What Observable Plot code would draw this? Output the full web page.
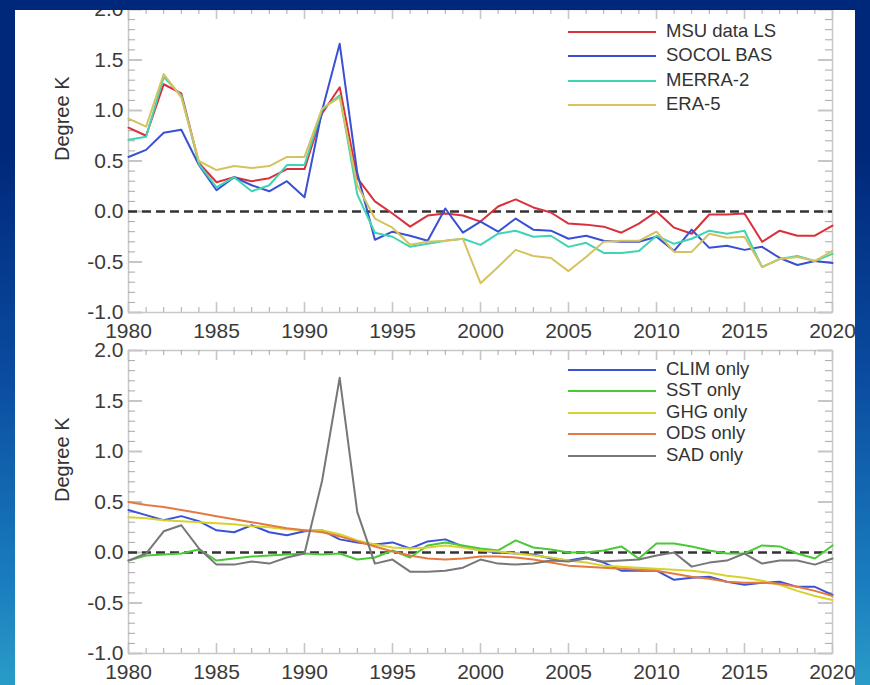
<!DOCTYPE html>
<html>
<head>
<meta charset="utf-8">
<script src="https://cdn.jsdelivr.net/npm/d3@7"></script>
<script src="https://cdn.jsdelivr.net/npm/@observablehq/plot@0.6"></script>
<style>
  html, body { margin: 0; padding: 0; }
  body {
    width: 870px; height: 685px; overflow: hidden; position: relative;
    background: linear-gradient(to bottom, #00287a 0%, #00287a 22%, #0a4ca0 55%, #1a7dbe 85%, #2a9cc8 100%);
    font-family: "Liberation Sans", Arial, Helvetica, sans-serif;
  }
  #panel {
    position: absolute; left: 15px; top: 10px; width: 840px; height: 675px;
    background: #fff; overflow: hidden;
  }
  .chart { position: absolute; left: 0; }
  .chart svg { overflow: visible; }
  .key-line { position: absolute; height: 2px; width: 88px; }
  .key-text { position: absolute; font-size: 18.5px; color: #333; line-height: 20px; white-space: nowrap; }
</style>
</head>
<body>
<div id="panel"></div>
<script>
// Lower-stratosphere temperature anomalies, 1980–2020
const years = d3.range(1980, 2021);

// Upper panel: observations, reanalyses and the SOCOL baseline run
const msuLS = [0.83, 0.75, 1.26, 1.17, 0.48, 0.29, 0.34, 0.30, 0.33, 0.42,
  0.42, 0.97, 1.23, 0.33, 0.10, -0.02, -0.15, -0.04, -0.02, -0.04,
  -0.10, 0.05, 0.12, 0.04, -0.01, -0.12, -0.13, -0.15, -0.21, -0.12,
  0.00, -0.16, -0.22, -0.03, -0.03, -0.02, -0.30, -0.19, -0.24, -0.24, -0.14];
const socolBAS = [0.54, 0.61, 0.78, 0.81, 0.46, 0.21, 0.34, 0.26, 0.20, 0.30,
  0.14, 1.00, 1.66, 0.38, -0.28, -0.20, -0.24, -0.29, 0.03, -0.21,
  -0.10, -0.20, -0.07, -0.18, -0.19, -0.27, -0.24, -0.29, -0.30, -0.30,
  -0.25, -0.39, -0.18, -0.36, -0.34, -0.38, -0.35, -0.46, -0.53, -0.49, -0.51];
const merra2 = [0.71, 0.74, 1.33, 1.15, 0.47, 0.24, 0.34, 0.20, 0.26, 0.46,
  0.46, 1.01, 1.15, 0.17, -0.21, -0.25, -0.35, -0.32, -0.29, -0.27,
  -0.33, -0.22, -0.19, -0.25, -0.24, -0.35, -0.31, -0.41, -0.41, -0.39,
  -0.24, -0.32, -0.27, -0.19, -0.22, -0.19, -0.55, -0.47, -0.44, -0.49, -0.42];
const era5 = [0.92, 0.84, 1.36, 1.13, 0.50, 0.41, 0.45, 0.43, 0.45, 0.54,
  0.54, 1.02, 1.13, 0.26, -0.07, -0.16, -0.33, -0.30, -0.29, -0.27,
  -0.71, -0.55, -0.38, -0.44, -0.46, -0.59, -0.45, -0.30, -0.29, -0.29,
  -0.20, -0.40, -0.40, -0.22, -0.26, -0.25, -0.55, -0.47, -0.45, -0.49, -0.39];

// Lower panel: single-forcing experiments
const climOnly = [0.42, 0.37, 0.32, 0.36, 0.31, 0.22, 0.20, 0.27, 0.20, 0.17,
  0.21, 0.22, 0.13, 0.10, 0.08, 0.10, 0.04, 0.11, 0.13, 0.06,
  0.02, 0.00, -0.01, -0.02, -0.06, -0.08, -0.05, -0.10, -0.18, -0.18,
  -0.18, -0.27, -0.25, -0.24, -0.29, -0.32, -0.30, -0.29, -0.34, -0.34, -0.42];
const sstOnly = [-0.08, -0.03, -0.02, -0.01, 0.03, -0.08, -0.06, -0.04, -0.03, -0.02,
  -0.01, -0.02, -0.01, -0.07, -0.05, 0.02, -0.05, 0.07, 0.10, 0.07,
  0.04, 0.02, 0.12, 0.05, 0.03, 0.00, 0.00, 0.02, 0.06, -0.06,
  0.09, 0.09, 0.06, 0.02, -0.01, -0.01, 0.07, 0.06, -0.01, -0.06, 0.07];
const ghgOnly = [0.35, 0.34, 0.32, 0.31, 0.30, 0.29, 0.28, 0.26, 0.25, 0.23,
  0.22, 0.22, 0.18, 0.12, 0.08, 0.05, 0.04, 0.05, 0.07, 0.05,
  0.02, 0.01, -0.01, -0.03, -0.05, -0.08, -0.10, -0.13, -0.14, -0.15,
  -0.16, -0.17, -0.18, -0.20, -0.23, -0.25, -0.28, -0.32, -0.38, -0.43, -0.47];
const odsOnly = [0.50, 0.47, 0.45, 0.42, 0.39, 0.36, 0.33, 0.30, 0.27, 0.24,
  0.22, 0.20, 0.16, 0.11, 0.06, 0.01, -0.03, -0.06, -0.07, -0.06,
  -0.04, -0.04, -0.05, -0.07, -0.10, -0.13, -0.14, -0.15, -0.16, -0.17,
  -0.18, -0.21, -0.24, -0.26, -0.29, -0.30, -0.30, -0.31, -0.34, -0.38, -0.43];
const sadOnly = [-0.08, -0.01, 0.21, 0.27, 0.04, -0.12, -0.12, -0.09, -0.11, -0.05,
  -0.01, 0.71, 1.73, 0.40, -0.11, -0.07, -0.19, -0.19, -0.18, -0.15,
  -0.07, -0.11, -0.12, -0.11, -0.08, -0.09, -0.06, -0.09, -0.08, -0.07,
  -0.03, 0.00, -0.14, -0.10, -0.08, -0.01, -0.11, -0.08, -0.08, -0.12, -0.06];

const topNames = ["MSU data LS", "SOCOL BAS", "MERRA-2", "ERA-5"];
const topColors = ["#d9303c", "#3a50d2", "#3fd4b4", "#d6c25e"];
const topSeries = [msuLS, socolBAS, merra2, era5];

const botNames = ["CLIM only", "SST only", "GHG only", "ODS only", "SAD only"];
const botColors = ["#3a52d4", "#4cc83a", "#d8d22e", "#e27a42", "#777777"];
const botSeries = [climOnly, sstOnly, ghgOnly, odsOnly, sadOnly];

const xLabels = [1980, 1985, 1990, 1995, 2000, 2005, 2010, 2015, 2020];
const yLabels = [-1.0, -0.5, 0.0, 0.5, 1.0, 1.5, 2.0];

const W = 840, ML = 113, MR = 23;
const plotW = W - ML - MR;

function tidy(names, series) {
  const rows = [];
  names.forEach((name, i) => series[i].forEach((v, j) => rows.push({name, year: years[j], value: v})));
  return rows;
}

function panel({names, colors, series, top, height, marginTop, marginBottom, legendTop, legendStep}) {
  const plotH = height - marginTop - marginBottom;
  const minorX = years.filter(y => y % 5 !== 0);
  const minorY = d3.range(-10, 21).filter(i => i % 5 !== 0).map(i => i / 10);
  const tickStroke = "#a8a8a8", majorStroke = "#c6c6c6";
  const chart = Plot.plot({
    width: W, height, marginLeft: ML, marginRight: MR, marginTop, marginBottom,
    x: {domain: [1980, 2020]},
    y: {domain: [-1, 2]},
    color: {domain: names, range: colors},
    style: {fontSize: "21px", fontFamily: "'Liberation Sans', Arial, Helvetica, sans-serif", color: "#3a3a3a", background: "transparent"},
    marks: [
      Plot.frame({stroke: "#c8c8c8", strokeWidth: 1.5}),
      // inward ticks on all four sides
      Plot.tickX(minorX, {x: d => d, insetTop: plotH - 5, stroke: tickStroke}),
      Plot.tickX(minorX, {x: d => d, insetBottom: plotH - 5, stroke: tickStroke}),
      Plot.tickX(xLabels, {x: d => d, insetTop: plotH - 10, stroke: majorStroke, strokeWidth: 1.6}),
      Plot.tickX(xLabels, {x: d => d, insetBottom: plotH - 10, stroke: majorStroke, strokeWidth: 1.6}),
      Plot.tickY(minorY, {y: d => d, insetRight: plotW - 7, stroke: tickStroke}),
      Plot.tickY(minorY, {y: d => d, insetLeft: plotW - 7, stroke: tickStroke}),
      Plot.tickY(yLabels, {y: d => d, insetRight: plotW - 14, stroke: majorStroke, strokeWidth: 2}),
      Plot.tickY(yLabels, {y: d => d, insetLeft: plotW - 14, stroke: majorStroke, strokeWidth: 2}),
      Plot.axisX({ticks: xLabels, tickSize: 0, tickPadding: 11, tickFormat: d => String(d), label: null}),
      Plot.axisY({ticks: yLabels, tickSize: 0, tickPadding: 5, tickFormat: d => d.toFixed(1), label: null}),
      Plot.text(["Degree K"], {text: d => d, frameAnchor: "left", rotate: -90, dx: -66, fontSize: 20, fill: "#333"}),
      Plot.ruleY([0], {stroke: "#333", strokeWidth: 2.5, strokeDasharray: "9,5"}),
      Plot.line(tidy(names, series), {x: "year", y: "value", z: "name", stroke: "name", strokeWidth: 2})
    ]
  });
  const wrap = document.createElement("div");
  wrap.className = "chart";
  wrap.style.top = top + "px";
  wrap.appendChild(chart);
  const host = document.getElementById("panel");
  host.appendChild(wrap);
  // legend entries inside the plot area, upper right
  names.forEach((name, i) => {
    const cy = Math.round(legendTop + i * legendStep);
    const line = document.createElement("div");
    line.className = "key-line";
    line.style.left = "553px";
    line.style.top = (cy - 1) + "px";
    line.style.background = colors[i];
    const txt = document.createElement("div");
    txt.className = "key-text";
    txt.style.left = "651px";
    txt.style.top = (cy - 11) + "px";
    txt.textContent = name;
    host.appendChild(line);
    host.appendChild(txt);
  });
}

panel({names: topNames, colors: topColors, series: topSeries,
  top: -10, height: 340, marginTop: 9, marginBottom: 28, legendTop: 22, legendStep: 24.3});
panel({names: botNames, colors: botColors, series: botSeries,
  top: 330, height: 345, marginTop: 10, marginBottom: 32, legendTop: 360, legendStep: 21.4});
</script>
</body>
</html>
